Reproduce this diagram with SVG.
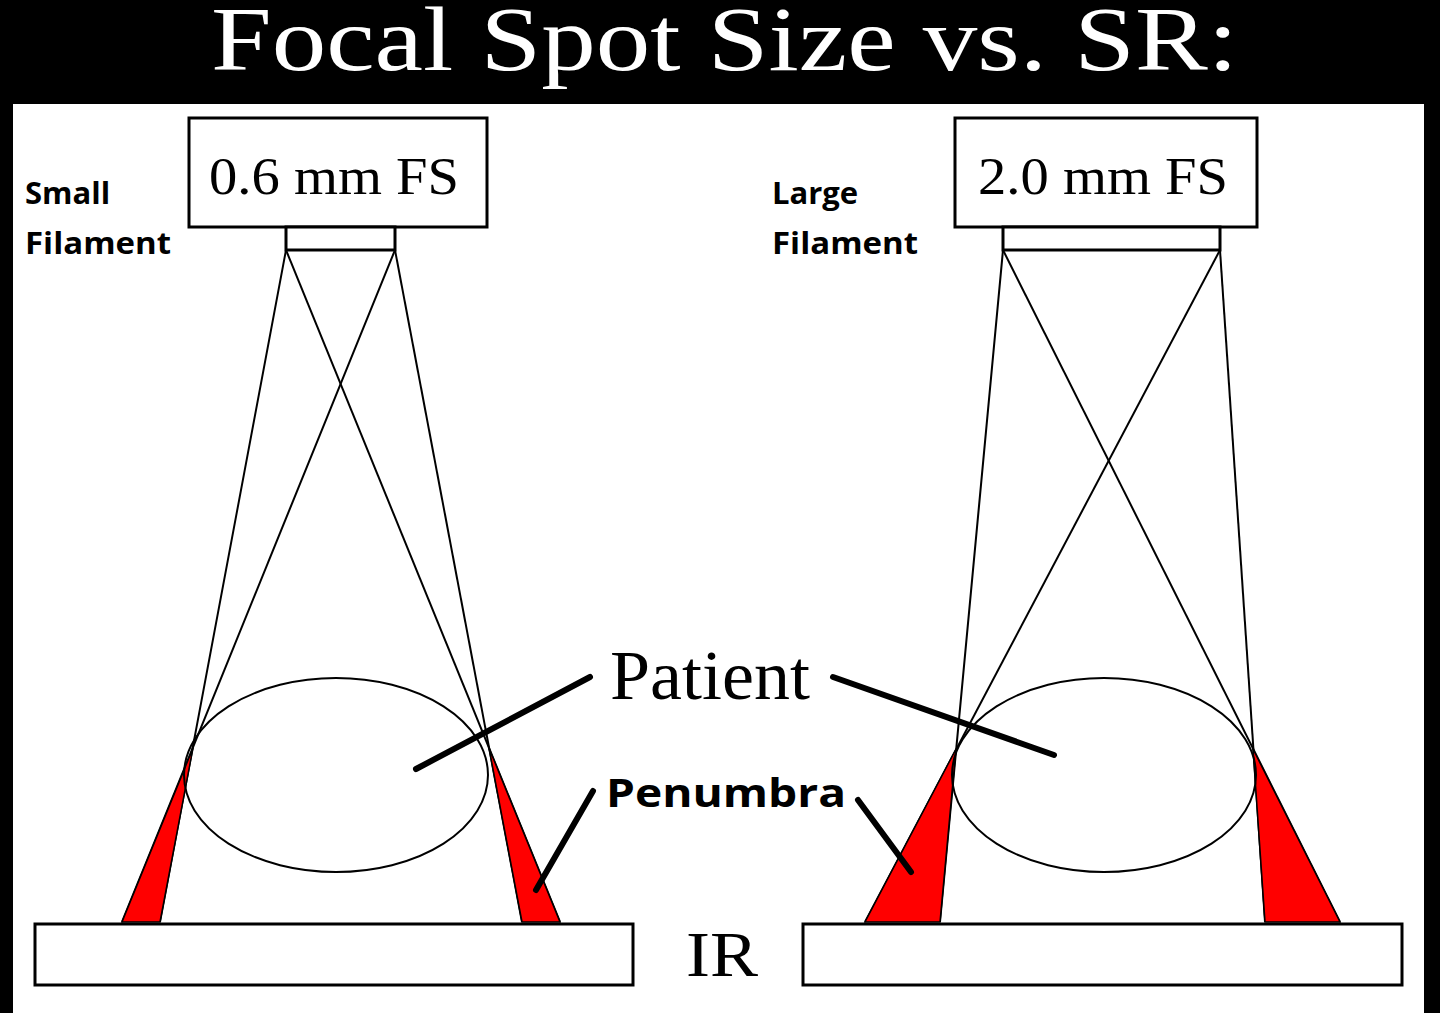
<svg xmlns="http://www.w3.org/2000/svg" width="1440" height="1013" viewBox="0 0 1440 1013">
<style>
.l{stroke:#000;stroke-width:2;fill:none}
.b{stroke:#000;stroke-width:3;fill:#fff}
.r{fill:#f00;stroke:#000;stroke-width:1.5}
.p{stroke:#000;stroke-width:6;stroke-linecap:round}
.s{font-family:"Liberation Serif",serif}
.f{font-family:"Open Sans","Liberation Sans",sans-serif;font-weight:bold;font-size:31px}
</style>
<rect width="1440" height="1013" fill="#000"/>
<rect x="13" y="104" width="1411" height="920" fill="#fff"/>
<text class="s" x="211" y="70" font-size="92" fill="#fff" textLength="1027" lengthAdjust="spacingAndGlyphs">Focal Spot Size vs. SR:</text>
<g id="connectors">
<line class="l" x1="286" y1="250" x2="160" y2="922"/><line class="l" x1="395" y1="250" x2="122" y2="922"/>
<line class="l" x1="286" y1="250" x2="560" y2="922"/><line class="l" x1="395" y1="250" x2="522" y2="922"/>
<line class="l" x1="1003" y1="250" x2="940" y2="922"/><line class="l" x1="1220" y1="250" x2="865" y2="922"/>
<line class="l" x1="1003" y1="250" x2="1340" y2="922"/><line class="l" x1="1220" y1="250" x2="1265" y2="922"/>
</g>
<g id="penumbra">
<polygon class="r" points="193,748 122,922 160,922"/><polygon class="r" points="489,748 522,922 560,922"/>
<polygon class="r" points="956,749 865,922 940,922"/><polygon class="r" points="1253,749 1265,922 1340,922"/>
</g>
<g id="left-tube"><rect class="b" x="189" y="118" width="298" height="109"/><text class="s" x="209" y="194" font-size="52" textLength="250" lengthAdjust="spacingAndGlyphs">0.6 mm FS</text><rect class="b" x="286" y="227" width="109" height="23" stroke-width="2.5"/></g>
<g id="right-tube"><rect class="b" x="955" y="118" width="302" height="109"/><text class="s" x="978" y="194" font-size="52" textLength="250" lengthAdjust="spacingAndGlyphs">2.0 mm FS</text><rect class="b" x="1003" y="227" width="217" height="23" stroke-width="2.5"/></g>
<g id="small-label"><text class="f" x="25" y="204">Small</text><text class="f" x="25" y="254" textLength="146" lengthAdjust="spacingAndGlyphs">Filament</text></g>
<g id="large-label"><text class="f" x="772" y="204">Large</text><text class="f" x="772" y="254" textLength="146" lengthAdjust="spacingAndGlyphs">Filament</text></g>
<g id="left-patient"><ellipse class="l" cx="336" cy="775" rx="152" ry="97" fill="#fff"/></g>
<g id="right-patient"><ellipse class="l" cx="1104" cy="775" rx="152" ry="97" fill="#fff"/></g>
<g id="ir"><rect class="b" x="35" y="924" width="598" height="61" stroke-width="2.5"/><rect class="b" x="803" y="924" width="599" height="61" stroke-width="2.5"/><text class="s" x="686" y="976" font-size="64" textLength="72" lengthAdjust="spacingAndGlyphs">IR</text></g>
<g id="pointers">
<line class="p" x1="590" y1="677" x2="416" y2="769"/><line class="p" x1="833" y1="677" x2="1054" y2="755"/>
<line class="p" x1="593" y1="791" x2="536" y2="890"/><line class="p" x1="858" y1="800" x2="911" y2="872"/>
</g>
<text class="s" x="610" y="699" font-size="70" textLength="200" lengthAdjust="spacingAndGlyphs">Patient</text>
<text class="f" x="606" y="807" style="font-size:40px" textLength="240" lengthAdjust="spacingAndGlyphs">Penumbra</text>
</svg>
